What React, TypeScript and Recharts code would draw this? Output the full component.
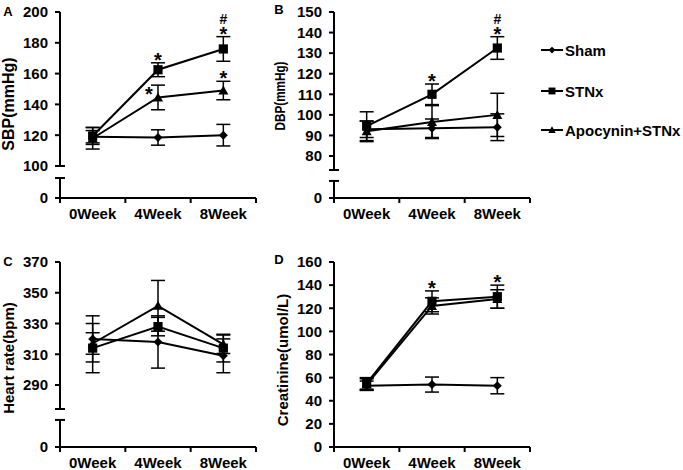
import React from 'react';
import { LineChart, Line, XAxis, YAxis, ErrorBar, ReferenceLine, LabelList } from 'recharts';

const weeks = ['0Week', '4Week', '8Week'];
const seriesNames = ['Sham', 'STNx', 'Apocynin+STNx'];
const shapes = ['diamond', 'square', 'triangle'];

// A - SBP
const sbpSham = [119, 118.5, 120];
const sbpShamErr = [4, 5, 7];
const sbpStnx = [119.5, 162.5, 176];
const sbpStnxErr = [5.5, 4.5, 8];
const sbpApo = [118, 144.5, 149];
const sbpApoErr = [7, 8, 6];
const sbpStnxSig = ['', '*', '#*'];
const sbpApoSig = ['', '*', '*'];
const sbpTicks = [100, 120, 140, 160, 180, 200];

// B - DBP
const dbpSham = [93, 93.5, 94];
const dbpShamErr = [4, 4.5, 6.5];
const dbpStnx = [94.5, 110, 132.5];
const dbpStnxErr = [7, 5, 5.5];
const dbpApo = [92, 96.5, 100];
const dbpApoErr = [5, 8, 10.5];
const dbpStnxSig = ['', '*', '#*'];
const dbpTicks = [80, 90, 100, 110, 120, 130, 140, 150];

// C - heart rate
const hrSham = [320, 318, 309];
const hrShamErr = [15, 17, 11];
const hrStnx = [314, 328, 314];
const hrStnxErr = [16, 6, 9];
const hrApo = [317, 341.5, 316.5];
const hrApoErr = [7, 16.5, 6];
const hrTicks = [290, 310, 330, 350, 370];

// D - creatinine
const crSham = [53, 54, 53];
const crShamErr = [4, 6.5, 7];
const crStnx = [55, 126, 130];
const crStnxErr = [5, 9, 10];
const crApo = [54, 122, 128];
const crApoErr = [5, 7, 8];
const crStnxSig = ['', '*', '*'];
const crTicks = [0, 20, 40, 60, 80, 100, 120, 140, 160];

const FONT = '"Liberation Sans", Arial, Helvetica, sans-serif';
const PLOT_W = 196;
const TOP = 12;
const X_H = 30;

const makeRows = (sham: number[], shamErr: number[], stnx: number[], stnxErr: number[], apo: number[], apoErr: number[], stnxSig?: string[], apoSig?: string[]) =>
  weeks.map((w, i) => ({
    x: i + 0.5,
    week: w,
    sham: sham[i], shamErr: shamErr[i],
    stnx: stnx[i], stnxErr: stnxErr[i],
    apo: apo[i], apoErr: apoErr[i],
    stnxSig: stnxSig ? stnxSig[i] : '',
    apoSig: apoSig ? apoSig[i] : '',
  }));

const sbpRows = makeRows(sbpSham, sbpShamErr, sbpStnx, sbpStnxErr, sbpApo, sbpApoErr, sbpStnxSig, sbpApoSig);
const dbpRows = makeRows(dbpSham, dbpShamErr, dbpStnx, dbpStnxErr, dbpApo, dbpApoErr, dbpStnxSig);
const hrRows = makeRows(hrSham, hrShamErr, hrStnx, hrStnxErr, hrApo, hrApoErr);
const crRows = makeRows(crSham, crShamErr, crStnx, crStnxErr, crApo, crApoErr, crStnxSig);

function markerPath(shape: string, cx: number, cy: number, k: number) {
  if (shape === 'diamond') {
    const s = 4.5 * k;
    return `M${cx},${cy - s}L${cx + s},${cy}L${cx},${cy + s}L${cx - s},${cy}Z`;
  }
  if (shape === 'square') {
    const s = 4.6 * k;
    return `M${cx - s},${cy - s}H${cx + s}V${cy + s}H${cx - s}Z`;
  }
  const s = 5 * k;
  return `M${cx},${cy - s}L${cx + s},${cy + s * 0.8}L${cx - s},${cy + s * 0.8}Z`;
}

const dotFor = (shape: string) => (p: any) => {
  if (p.cx == null || p.cy == null) return <g key={`${shape}-${p.index}`} />;
  return <path key={`${shape}-${p.index}`} d={markerPath(shape, p.cx, p.cy, 1)} fill="#000" stroke="none" />;
};

// significance marks sit just above the error bar cap ('*'), '#' stacked above it
const sigLabel = (rows: any[], errKey: string, ppu: number, leftIdx: number[]) => (p: any) => {
  const vb = p.viewBox || {};
  const x = vb.x ?? p.x;
  const y = vb.y ?? p.y;
  const idx = p.index;
  const v = p.value;
  if (!v || x == null || y == null) return null;
  const style = { fontFamily: FONT, fontWeight: 'bold' as const, fill: '#000' };
  if (leftIdx.includes(idx)) {
    return <text x={x - 9} y={y - 7 + 11} textAnchor="middle" style={{ ...style, fontSize: 20 }}>*</text>;
  }
  const errTop = y - rows[idx][errKey] * ppu;
  const out: any[] = [];
  v.split('').forEach((c: string, i: number) => {
    if (c === '*') {
      out.push(<text key={i} x={x} y={errTop + 4} textAnchor="middle" style={{ ...style, fontSize: 20 }}>*</text>);
    } else {
      out.push(<text key={i} x={x} y={errTop - 13} textAnchor="middle" style={{ ...style, fontSize: 14 }}>{c}</text>);
    }
  });
  return <g>{out}</g>;
};

const XTick = (p: any) => {
  const v = p.payload.value;
  const axisY = p.y - 10;
  if (Number.isInteger(v)) {
    return <line x1={p.x} x2={p.x} y1={axisY} y2={axisY + 5} stroke="#000" strokeWidth={2} />;
  }
  return (
    <text x={p.x} y={p.y} dy="0.71em" textAnchor="middle" style={{ fontFamily: FONT, fontWeight: 'bold', fontSize: 15, fill: '#000' }}>
      {weeks[Math.floor(v)]}
    </text>
  );
};

interface PanelCfg {
  left: number; top: number; axisW: number; height: number;
  min: number; max: number; ticks: number[]; zeroAt: number | null; brk: [number, number] | null;
}

function Panel({ rows, cfg, stnxSig, apoSig, apoLeft }: { rows: any[]; cfg: PanelCfg; stnxSig?: boolean; apoSig?: boolean; apoLeft?: number[] }) {
  const width = cfg.axisW + PLOT_W + 4;
  const ppu = (cfg.height - TOP - X_H) / (cfg.max - cfg.min);
  const yTicks = cfg.zeroAt !== null ? [cfg.zeroAt, ...cfg.ticks] : cfg.ticks;
  const segs = cfg.brk ? [[cfg.max, cfg.brk[1]], [cfg.brk[0], cfg.min]] : [[cfg.max, cfg.min]];
  const barHalf = 5 / (PLOT_W / 3);
  const keys = ['sham', 'stnx', 'apo'];
  return (
    <div style={{ position: 'absolute', left: cfg.left, top: cfg.top }}>
      <LineChart width={width} height={cfg.height} data={rows} margin={{ top: TOP, right: 4, bottom: 0, left: 0 }}>
        <XAxis
          type="number" dataKey="x" domain={[0, 3]} ticks={[0, 0.5, 1, 1.5, 2, 2.5, 3]} interval={0}
          height={X_H} tickSize={5} tickMargin={5} tickLine={false}
          axisLine={{ stroke: '#000', strokeWidth: 2 }} tick={XTick}
        />
        <YAxis
          type="number" domain={[cfg.min, cfg.max]} ticks={yTicks} interval={0} allowDataOverflow
          width={cfg.axisW} tickSize={5} tickMargin={7} axisLine={false}
          tickLine={{ stroke: '#000', strokeWidth: 2 }}
          tickFormatter={(v: number) => (v === cfg.zeroAt ? '0' : String(v))}
          tick={{ fill: '#000', fontSize: 15, fontWeight: 'bold', fontFamily: FONT }}
        />
        {segs.map((s, i) => (
          <ReferenceLine key={`ax${i}`} segment={[{ x: 0, y: s[0] }, { x: 0, y: s[1] }]} stroke="#000" strokeWidth={2} ifOverflow="visible" />
        ))}
        {cfg.brk && cfg.brk.map((v, i) => (
          <ReferenceLine key={`br${i}`} segment={[{ x: -barHalf, y: v }, { x: barHalf, y: v }]} stroke="#000" strokeWidth={2} ifOverflow="visible" />
        ))}
        {keys.map((k, si) => (
          <Line key={k} dataKey={k} name={seriesNames[si]} stroke="#000" strokeWidth={2} dot={dotFor(shapes[si])} activeDot={false} isAnimationActive={false}>
            <ErrorBar dataKey={`${k}Err`} width={7} stroke="#000" strokeWidth={1.5} direction="y" isAnimationActive={false} />
            {k === 'stnx' && stnxSig && <LabelList dataKey="stnxSig" content={sigLabel(rows, 'stnxErr', ppu, [])} />}
            {k === 'apo' && apoSig && <LabelList dataKey="apoSig" content={sigLabel(rows, 'apoErr', ppu, apoLeft || [])} />}
          </Line>
        ))}
      </LineChart>
    </div>
  );
}

const txt = { fontFamily: FONT, fontWeight: 'bold' as const, color: '#000', whiteSpace: 'nowrap' as const, lineHeight: 1 };

const VTitle = ({ text, cx, cy, size, squeeze = 1 }: { text: string; cx: number; cy: number; size: number; squeeze?: number }) => (
  <div style={{ ...txt, position: 'absolute', left: cx, top: cy, fontSize: size, transform: `translate(-50%,-50%) rotate(-90deg) scaleX(${squeeze})` }}>{text}</div>
);

const Letter = ({ text, cx, cy }: { text: string; cx: number; cy: number }) => (
  <div style={{ ...txt, position: 'absolute', left: cx, top: cy, fontSize: 13, transform: 'translate(-50%,-50%)' }}>{text}</div>
);

const legendY = [50, 91, 130];

export default function App() {
  return (
    <div style={{ position: 'absolute', left: 0, top: 0, width: 683, height: 470, background: '#fff', overflow: 'hidden' }}>
      <Panel rows={sbpRows} stnxSig apoSig apoLeft={[1]}
        cfg={{ left: 0, top: 0, axisW: 60, height: 228, min: 79.2, max: 200, ticks: sbpTicks, zeroAt: 79.2, brk: [92.2, 100] }} />
      <Panel rows={dbpRows} stnxSig
        cfg={{ left: 260, top: 0, axisW: 74, height: 228, min: 59.6, max: 150, ticks: dbpTicks, zeroAt: 59.6, brk: [67.9, 73.2] }} />
      <Panel rows={hrRows}
        cfg={{ left: 0, top: 250, axisW: 60, height: 227, min: 249.7, max: 370, ticks: hrTicks, zeroAt: 249.7, brk: [267.3, 274.4] }} />
      <Panel rows={crRows} stnxSig
        cfg={{ left: 260, top: 250, axisW: 74, height: 227, min: 0, max: 160, ticks: crTicks, zeroAt: null, brk: null }} />

      <VTitle text="SBP(mmHg)" cx={9} cy={104} size={16} />
      <VTitle text="DBP(mmHg)" cx={279} cy={96} size={15} squeeze={0.78} />
      <VTitle text="Heart rate(bpm)" cx={8} cy={358} size={15} />
      <VTitle text="Creatinine(umol/L)" cx={282} cy={360} size={15} />

      <Letter text="A" cx={8} cy={11} />
      <Letter text="B" cx={279} cy={9} />
      <Letter text="C" cx={8} cy={261} />
      <Letter text="D" cx={279} cy={259} />

      {seriesNames.map((n, i) => (
        <div key={n} style={{ position: 'absolute', left: 541, top: legendY[i] - 8, height: 16, display: 'flex', alignItems: 'center' }}>
          <svg width={23} height={12} style={{ display: 'block' }}>
            <line x1={0} x2={22} y1={6} y2={6} stroke="#000" strokeWidth={2} />
            <path d={markerPath(shapes[i], 11, 6, 0.75)} fill="#000" />
          </svg>
          <span style={{ ...txt, fontSize: 15, marginLeft: 1 }}>{n}</span>
        </div>
      ))}
    </div>
  );
}
